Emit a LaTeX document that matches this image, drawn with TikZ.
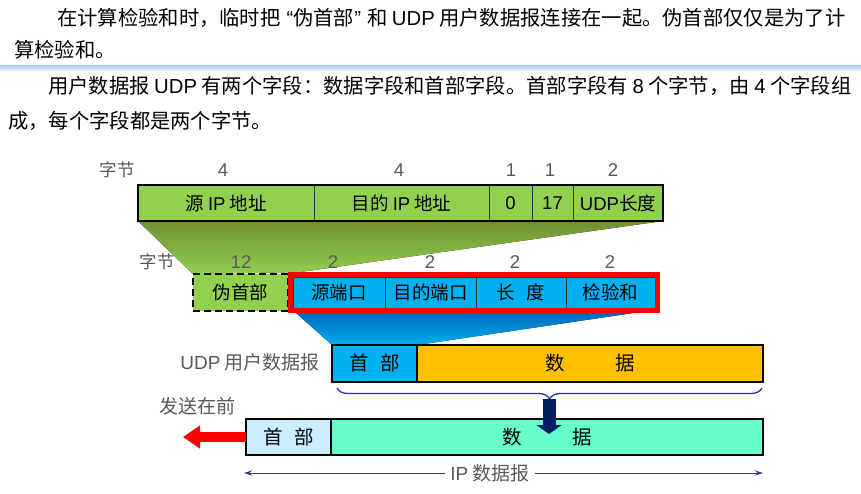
\documentclass[tikz,border=0pt]{standalone}
\usepackage{fontspec}
\setmainfont{Noto Sans CJK SC}
\newfontfamily\lat{Liberation Sans}
\usetikzlibrary{arrows.meta,decorations.pathreplacing,positioning}

\definecolor{fieldgreen}{HTML}{92D050}
\definecolor{shadegreen}{HTML}{6F8F32}
\definecolor{fieldblue}{HTML}{00B0F0}
\definecolor{shadeblue}{HTML}{0066B8}
\definecolor{dataorange}{HTML}{FFC000}
\definecolor{hdrblue}{HTML}{CCECFF}
\definecolor{dataaqua}{HTML}{66FFCC}
\definecolor{navyblue}{HTML}{002060}
\definecolor{bracecol}{HTML}{333399}
\definecolor{labelgray}{HTML}{595959}
\definecolor{rulecol}{HTML}{A9C9EE}

\tikzset{
  cell/.style={draw=black!80, line width=0.8pt, inner sep=0pt, outer sep=0pt,
    font=\fontsize{18.5}{21}\selectfont},
  bigcell/.style={cell, font=\fontsize{19.5}{22}\selectfont},
  bytes/.style={text=labelgray, inner sep=0pt, font=\lat\fontsize{18.5}{20}\selectfont},
  bytesname/.style={text=labelgray, inner sep=0pt, font=\fontsize{17.5}{20}\selectfont},
  graylabel/.style={text=labelgray, inner sep=0pt, font=\fontsize{19}{22}\selectfont},
  para/.style={anchor=west, inner sep=0pt, font=\fontsize{20.3}{24}\selectfont},
}

\begin{document}
\begin{tikzpicture}[x=1pt, y=-1pt]
	\fill[white] (0,0) rectangle (861,493);
	\useasboundingbox (0,0) rectangle (861,493);

	% Text above the figure
	\node[para] (p1) at (57,18) {在计算检验和时，临时把\hspace{0.3em}{\lat“}伪首部{\lat”}\hspace{0.3em}和 {\lat UDP} 用户数据报连接在一起。伪首部仅仅是为了计};
	\node[para] (p2) at (14,50) {算检验和。};
	\fill[top color=rulecol, bottom color=white] (0,65) rectangle (861,72);
	\draw[rulecol, line width=1pt] (0,65) -- (861,65);
	\node[para] (p3) at (48,86) {用户数据报 {\lat UDP} 有两个字段：数据字段和首部字段。首部字段有 {\lat 8} 个字节，由 {\lat 4} 个字段组};
	\node[para] (p4) at (8,121) {成，每个字段都是两个字节。};

	% Shaded wedges (drawn first, the boxes lie on top)
	\fill[top color=shadegreen, bottom color=fieldgreen]
		(138,221) -- (663,221) -- (300,272) -- (193,274) -- cycle;
	\fill[top color=shadeblue, bottom color=fieldblue]
		(295,312) -- (640,312) -- (417,345) -- (332,345) -- cycle;

	% Pseudo header fields
	\node[bytesname] (bytesA) at (117,170) {字节};
	\node[bytes] at (223,170) {4};
	\node[bytes] at (399,170) {4};
	\node[bytes] at (511,170) {1};
	\node[bytes] at (550,170) {1};
	\node[bytes] at (613,170) {2};

	\node[cell, fill=fieldgreen, minimum width=176pt, minimum height=36pt] (srcip) at (226,203) {源 {\lat IP} 地址};
	\node[cell, fill=fieldgreen, minimum width=175pt, minimum height=36pt, right=0pt of srcip] (dstip) {目的 {\lat IP} 地址};
	\node[cell, fill=fieldgreen, minimum width=43pt, minimum height=36pt, right=0pt of dstip] (zero) {\lat 0};
	\node[cell, fill=fieldgreen, minimum width=41pt, minimum height=36pt, right=0pt of zero] (proto) {\lat 17};
	\node[cell, fill=fieldgreen, minimum width=90pt, minimum height=36pt, right=0pt of proto] (udplen) {{\lat UDP}长度};
	\draw[line width=2pt] (srcip.north west) rectangle (udplen.south east);

	% UDP header fields
	\node[bytesname] (bytesB) at (157,262) {字节};
	\node[bytes] at (241,262) {12};
	\node[bytes] at (333,262) {2};
	\node[bytes] at (430,262) {2};
	\node[bytes] at (515,262) {2};
	\node[bytes] at (610,262) {2};

	\node[cell, draw=black, dash pattern=on 7pt off 4pt, line width=1.8pt, fill=fieldgreen, minimum width=95pt, minimum height=37pt] (pseudo) at (240.5,292.5) {伪首部};
	\node[cell, fill=fieldblue, minimum width=92pt, minimum height=31pt] (srcport) at (339,292.5) {源端口};
	\node[cell, fill=fieldblue, minimum width=91pt, minimum height=31pt, right=0pt of srcport] (dstport) {目的端口};
	\node[cell, fill=fieldblue, minimum width=90pt, minimum height=31pt, right=0pt of dstport] (length) {长\hspace{0.6em}度};
	\node[cell, fill=fieldblue, minimum width=89pt, minimum height=31pt, right=0pt of length] (checksum) {检验和};
	\draw[red, line width=5pt] ([shift={(-2.5,-2.5)}]srcport.north west) rectangle ([shift={(2.5,2.5)}]checksum.south east);

	% UDP user datagram
	\node[graylabel, anchor=east] (udplabel) at (320,362) {{\lat UDP} 用户数据报};
	\node[bigcell, draw=black, line width=1.2pt, fill=fieldblue, minimum width=85pt, minimum height=37pt] (udphdr) at (374.5,363.5) {首\hspace{0.6em}部};
	\node[bigcell, draw=black, line width=1.2pt, fill=dataorange, minimum width=346pt, minimum height=37pt, right=0pt of udphdr] (udpdata) {数\hspace{2.6em}据};

	\draw[bracecol, line width=1.3pt, decorate, decoration={brace, mirror, amplitude=11pt}]
		([shift={(5,6)}]udphdr.south west) -- ([shift={(-1,6)}]udpdata.south east);
	\coordinate (bracetip) at (549,399);

	% IP datagram
	\node[graylabel] (sendlabel) at (197,406) {发送在前};
	\node[bigcell, draw=black, line width=1.5pt, fill=hdrblue, minimum width=85pt, minimum height=36pt] (iphdr) at (288.5,437) {首\hspace{0.6em}部};
	\node[bigcell, draw=black, line width=1.5pt, fill=dataaqua, minimum width=432pt, minimum height=36pt, right=0pt of iphdr] (ipdata) {数\hspace{2.6em}据};
	\draw[line width=2pt] (iphdr.north west) rectangle (ipdata.south east);

	% Arrows
	\coordinate (navytip) at (549,434);
	\draw[navyblue, line width=13pt, -{Triangle[width=25pt, length=9pt]}] (bracetip) -- (navytip);
	\coordinate (sendtip) at (183,437);
	\draw[red, line width=10pt, -{Triangle[width=22pt, length=17pt]}] (iphdr.west) -- (sendtip);

	\coordinate (ipstart) at ([shift={(-2,18)}]iphdr.south west);
	\coordinate (ipend) at ([shift={(0,18)}]ipdata.south east);
	\draw[bracecol, line width=0.9pt, {Stealth[length=8pt, width=5pt]}-{Stealth[length=8pt, width=5pt]}]
		(ipstart) -- node[pos=0.474, fill=white, graylabel, inner xsep=5pt, inner ysep=2pt] (iplabel) {{\lat IP} 数据报} (ipend);
\end{tikzpicture}
\end{document}
